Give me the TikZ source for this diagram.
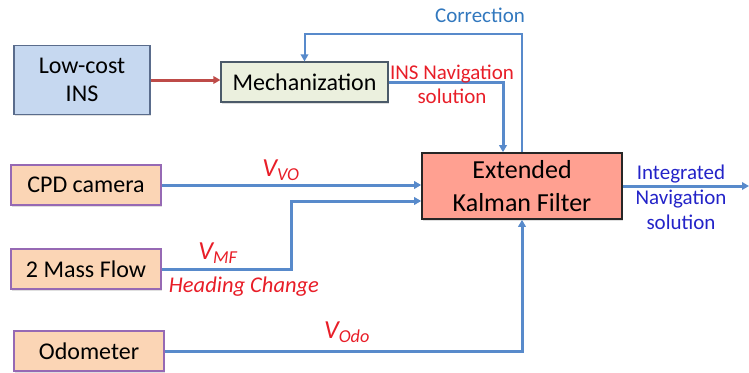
\documentclass[tikz,border=0pt]{standalone}
\usepackage{fontspec}
\setmainfont{Carlito}
\usetikzlibrary{arrows.meta,shapes,shadows}
\definecolor{insfill}{RGB}{198,216,240}
\definecolor{insline}{RGB}{90,108,140}
\definecolor{mechfill}{RGB}{235,240,222}
\definecolor{mechline}{RGB}{75,90,105}
\definecolor{sensorfill}{RGB}{251,213,181}
\definecolor{sensorline}{RGB}{150,105,180}
\definecolor{ekffill}{RGB}{255,160,145}
\definecolor{linkblue}{RGB}{88,138,203}
\definecolor{insred}{RGB}{190,75,72}
\definecolor{labelred}{RGB}{232,30,40}
\definecolor{corrblue}{RGB}{50,120,190}
\definecolor{outblue}{RGB}{35,35,200}
\tikzstyle{block}=[draw, line width=1.2pt, inner sep=0pt, align=center, font=\fontsize{24}{28}\selectfont, drop shadow={opacity=0.25,shadow xshift=1pt,shadow yshift=-1.5pt}]
\tikzstyle{sensor}=[block, fill=sensorfill, draw=sensorline, minimum width=150pt, minimum height=40pt]
\tikzstyle{edge}=[draw, line width=3pt, linkblue, -{Triangle[length=7pt,width=7.5pt]}]
\tikzstyle{redlabel}=[text=labelred, font=\fontsize{21}{24}\selectfont, align=center]
\tikzstyle{vlabel}=[text=labelred, font=\fontsize{26}{28}\itshape]
\newcommand\vsub[1]{V\textsubscript{#1}}

\begin{document}
\begin{tikzpicture}[x=1pt, y=-1pt]
    \useasboundingbox (0,0) rectangle (749,372);

    \node[block, fill=insfill, draw=insline, minimum width=136pt, minimum height=69pt] (ins) at (82,80) {Low-cost\\INS};
    \node[block, fill=mechfill, draw=mechline, minimum width=167pt, minimum height=40pt] (mech) at (304.5,82) {Mechanization};
    \node[block, fill=ekffill, draw=black!85, line width=1.6pt, minimum width=200pt, minimum height=66pt, font=\fontsize{26}{33}\selectfont] (ekf) at (522,186) {Extended\\Kalman Filter};

    \foreach \pos/ \name/ \lbl in {{(86,185)/cpd/CPD camera}, {(86,269)/mf/2 Mass Flow}, {(89,351)/odo/Odometer}}
        \node[sensor] (\name) at \pos {\lbl};

    % connectors
    \path[edge, insred] (ins.east) -- (ins.east -| mech.west);
    \path[edge] (mech.east) -| ([xshift=-19pt]ekf.north);
    \path[edge, line width=2pt] (ekf.north) |- ([yshift=27pt]mech.north) -- (mech.north);
    \path[edge] (cpd.east) -- (cpd.east -| ekf.west);
    \path[edge] (mf.east) -- ++(130,0) |- ([yshift=-15pt]ekf.west);
    \path[edge] (odo.east) -| (ekf.south);
    \coordinate (out) at (749,186);
    \path[edge] (ekf.east) -- (out);

    % labels
    \node[text=corrblue, font=\fontsize{21}{24}\selectfont] (corr) at (480,15) {Correction};
    \node[redlabel] (insnav) at (452,84) {INS Navigation\\solution};
    \node[vlabel] (vvo) at (281,170) {\vsub{VO}};
    \node[vlabel] (vmf) at (218,253) {\vsub{MF}};
    \node[redlabel, font=\fontsize{22.5}{24}\itshape] (heading) at (244,287) {Heading Change};
    \node[vlabel] (vodo) at (347,332) {\vsub{Odo}};
    \node[text=outblue, font=\fontsize{21}{25}\selectfont, align=center] (integ) at (681,197) {Integrated\\Navigation\\solution};
\end{tikzpicture}
\end{document}
